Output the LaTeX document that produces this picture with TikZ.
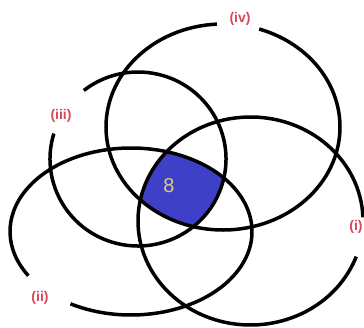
\documentclass[tikz,border=0pt]{standalone}
\usepackage{fontspec}
\setmainfont{Liberation Sans}
\definecolor{regionblue}{RGB}{62,64,200}
\definecolor{labelred}{RGB}{214,72,88}
\definecolor{numyellow}{RGB}{218,208,120}
\tikzset{
  curve/.style={line width=3.5pt, black},
  setlabel/.style={text=labelred, font=\fontsize{14}{15}\selectfont\bfseries, inner sep=1pt},
  numlabel/.style={text=numyellow, font=\fontsize{20}{22}\selectfont, inner sep=0pt}
}
\begin{document}
\begin{tikzpicture}[x=1pt,y=1pt]
\useasboundingbox[fill=white] (0,0) rectangle (364,327);
% intersection region
\begin{scope}
  \clip (223,200) ellipse [x radius=117pt, y radius=103pt];
  \clip (138,168) ellipse [x radius=88pt, y radius=87pt];
  \clip (131,95.5) ellipse [x radius=121pt, y radius=83.5pt];
  \fill[regionblue] (250.5,106) ellipse [x radius=112.5pt, y radius=104pt];
\end{scope}
% (iv)
\draw[curve] (223,200) ++(93:117pt and 103pt) arc[start angle=93, end angle=432, x radius=117pt, y radius=103pt];
% (iii)
\draw[curve] (138,168) ++(163:88pt and 87pt) arc[start angle=163, end angle=488, x radius=88pt, y radius=87pt];
% (ii)
\draw[curve] (131,95.5) ++(240:121pt and 83.5pt) arc[start angle=240, end angle=572, x radius=121pt, y radius=83.5pt];
% (i)
\draw[curve] (250.5,106) ++(2:112.5pt and 104pt) arc[start angle=2, end angle=340, x radius=112.5pt, y radius=104pt];
\node[setlabel] (liv) at (240,308) {(iv)};
\node[setlabel] (liii) at (61,211) {(iii)};
\node[setlabel] (lii) at (40,29) {(ii)};
\node[setlabel] (li) at (356,100) {(i)};
\node[numlabel] (eight) at (169,141) {8};
\end{tikzpicture}
\end{document}
